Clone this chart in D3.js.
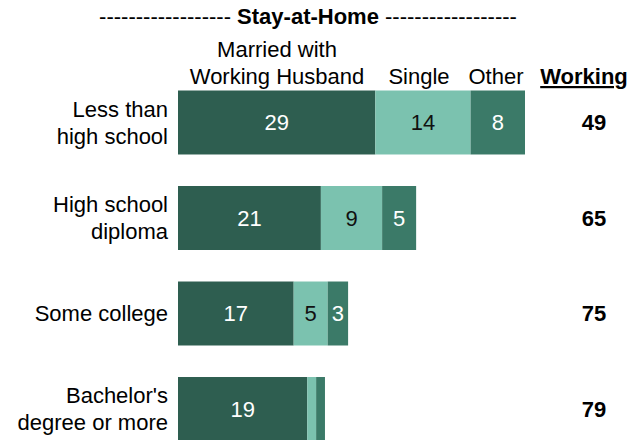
<!DOCTYPE html>
<html>
<head>
<meta charset="utf-8">
<script src="https://cdn.jsdelivr.net/npm/d3@7"></script>
<style>
  body { margin: 0; background: #fff; }
  text { font-family: "Liberation Sans", Arial, sans-serif; }
</style>
</head>
<body>
<div id="chart"></div>
<script>
// categories (two-line labels)
var categories = [
    ["Less than", "high school"],
    ["High school", "diploma"],
    ["Some college"],
    ["Bachelor's", "degree or more"]
];

// stay-at-home series
var married = [29, 21, 17, 19];
var single = [14, 9, 5, 1.3];
var other = [8, 5, 3, 1.3];
var working = [49, 65, 75, 79];

var seriesNames = ["married", "single", "other"];
var seriesColors = {married: "#2e5e50", single: "#7bc2af", other: "#3b7a68"};
var labelColors = {married: "#fff", single: "#111", other: "#fff"};

var W = 639, H = 440;
var svg = d3.select("#chart")
    .append("svg")
    .attr("width", W)
    .attr("height", H);

var rows = categories.map(function(c, i) {
    return {i: i, married: married[i], single: single[i], other: other[i]};
});

var stack = d3.stack().keys(seriesNames);
var layers = stack(rows);

// scales
var xScale = d3.scaleLinear()
    .domain([0, 51])
    .range([178, 525]);

var yScale = d3.scaleBand()
    .domain(d3.range(categories.length))
    .range([90.5, 441])
    .paddingInner(0.33)
    .paddingOuter(0);

// title
var title = svg.append("text")
    .attr("x", 308)
    .attr("y", 24)
    .attr("text-anchor", "middle")
    .style("font-size", "22px");
title.append("tspan").text("------------------ ");
title.append("tspan").style("font-weight", "bold").text("Stay-at-Home");
title.append("tspan").text(" ------------------");

// column headers
svg.append("text").attr("x", 277).attr("y", 57).attr("text-anchor", "middle")
    .style("font-size", "22px").text("Married with");
svg.append("text").attr("x", 277).attr("y", 84).attr("text-anchor", "middle")
    .style("font-size", "22px").text("Working Husband");
svg.append("text").attr("x", 419).attr("y", 84).attr("text-anchor", "middle")
    .style("font-size", "22px").text("Single");
svg.append("text").attr("x", 496).attr("y", 84).attr("text-anchor", "middle")
    .style("font-size", "22px").text("Other");
svg.append("text").attr("x", 584).attr("y", 84).attr("text-anchor", "middle")
    .style("font-size", "22px").style("font-weight", "bold")
    .style("text-decoration", "underline").text("Working");

// bars
var g = svg.append("g");
layers.forEach(function(layer) {
    var key = layer.key;
    g.selectAll("rect." + key)
        .data(layer)
        .enter()
        .append("rect")
        .attr("class", key)
        .attr("x", function(d) { return xScale(d[0]); })
        .attr("y", function(d, i) { return yScale(i); })
        .attr("width", function(d) { return xScale(d[1]) - xScale(d[0]); })
        .attr("height", yScale.bandwidth())
        .attr("fill", seriesColors[key]);

    g.selectAll("text." + key)
        .data(layer.filter(function(d) { return d[1] - d[0] >= 2; }))
        .enter()
        .append("text")
        .attr("class", key)
        .attr("x", function(d) { return (xScale(d[0]) + xScale(d[1])) / 2; })
        .attr("y", function(d) { return yScale(d.data.i) + yScale.bandwidth() / 2; })
        .attr("dy", "0.36em")
        .attr("text-anchor", "middle")
        .attr("fill", labelColors[key])
        .style("font-size", "22px")
        .text(function(d) { return d[1] - d[0]; });
});

// category labels
categories.forEach(function(lines, i) {
    var cy = yScale(i) + yScale.bandwidth() / 2;
    var t = svg.append("text")
        .attr("text-anchor", "end")
        .style("font-size", "22px");
    lines.forEach(function(line, j) {
        t.append("tspan")
            .attr("x", 168)
            .attr("y", cy + (j - (lines.length - 1) / 2) * 27)
            .attr("dy", "0.36em")
            .text(line);
    });
});

// working values
svg.selectAll("text.working")
    .data(working)
    .enter()
    .append("text")
    .attr("class", "working")
    .attr("x", 594)
    .attr("y", function(d, i) { return yScale(i) + yScale.bandwidth() / 2; })
    .attr("dy", "0.36em")
    .attr("text-anchor", "middle")
    .style("font-size", "22px")
    .style("font-weight", "bold")
    .text(function(d) { return d; });
</script>
</body>
</html>
